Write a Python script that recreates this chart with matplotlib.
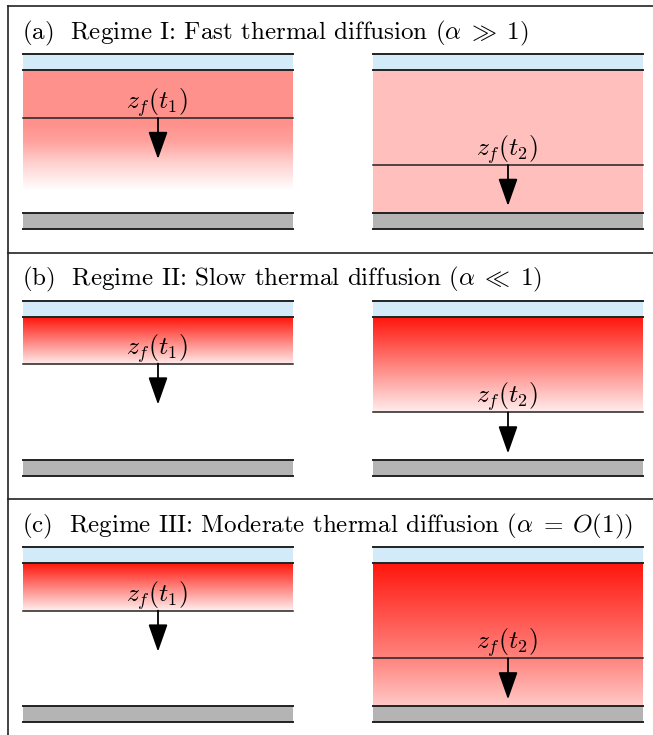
import numpy as np
import matplotlib.pyplot as plt
from matplotlib.patches import Rectangle

plt.rcParams['font.family'] = 'cmr10'
plt.rcParams['mathtext.fontset'] = 'cm'

# Panel titles
titles = [r'(a)  Regime I: Fast thermal diffusion $(\alpha\;\gg\;1)$',
          r'(b)  Regime II: Slow thermal diffusion $(\alpha\;\ll\;1)$',
          r'(c)  Regime III: Moderate thermal diffusion $(\alpha\;=\;O(1))$']

# Front depth (fraction of layer depth) at t1 and t2
front_t1 = [0.336, 0.329, 0.333]
front_t2 = [0.664, 0.671, 0.667]

# Heat intensity profiles (depth fraction, intensity 0..1)
prof_depth = {
    ('a', 1): [0.0, 0.38, 0.5, 0.65, 0.84, 1.0],
    ('a', 2): [0.0, 1.0],
    ('b', 1): [0.0, 0.333, 0.334, 1.0],
    ('b', 2): [0.0, 0.667, 0.668, 1.0],
    ('c', 1): [0.0, 0.333, 0.334, 1.0],
    ('c', 2): [0.0, 0.333, 0.667, 1.0],
}
prof_val = {
    ('a', 1): [0.47, 0.47, 0.40, 0.20, 0.0, 0.0],
    ('a', 2): [0.27, 0.27],
    ('b', 1): [1.0, 0.07, 0.0, 0.0],
    ('b', 2): [1.0, 0.07, 0.0, 0.0],
    ('c', 1): [1.0, 0.07, 0.0, 0.0],
    ('c', 2): [1.0, 0.76, 0.53, 0.23],
}
labels = ['a', 'b', 'c']

# layout (pixels)
pitch = 246.5
blue_top, liq_top, gray_top, gray_bot = 54, 70, 213, 229
boxes = [(23, 293), (373, 643)]
arrow_len = 41
red = np.array([255, 22, 12]) / 255.0
lc = '#222222'

fig = plt.figure(figsize=(6.53, 7.35), dpi=100)
ax = fig.add_axes([0, 0, 1, 1])

# outer frame and dividers
ax.plot([8, 8], [6, 740], color=lc, lw=1.2)
for k in range(3):
    ax.plot([8, 660], [6 + k * pitch, 6 + k * pitch], color=lc, lw=1.2)

for k, lab in enumerate(labels):
    off = k * pitch
    ax.text(22, 33 + off, titles[k], fontsize=18, va='center', ha='left')
    for j, (x0, x1) in enumerate(boxes):
        w = x1 - x0
        yt, yb = liq_top + off, gray_top + off
        # heat gradient
        d = np.linspace(0, 1, 400)
        s = np.interp(d, prof_depth[(lab, j + 1)], prof_val[(lab, j + 1)])
        img = 1 - s[:, None, None] * (1 - red[None, None, :])
        ax.imshow(img, extent=(x0, x1, yb, yt), origin='upper',
                  aspect='auto', interpolation='bilinear')
        ax.add_patch(Rectangle((x0, blue_top + off), w, liq_top - blue_top,
                               fc='#d3ebf8', ec='none'))
        ax.add_patch(Rectangle((x0, gray_top + off), w, gray_bot - gray_top,
                               fc='#b4b4b4', ec='none'))
        for yy in [blue_top, liq_top, gray_top, gray_bot]:
            ax.plot([x0, x1], [yy + off, yy + off], color=lc, lw=1.4)
        # freezing front
        f = front_t1[k] if j == 0 else front_t2[k]
        yf = yt + f * (yb - yt)
        ax.plot([x0, x1], [yf, yf], color=lc, lw=1.1)
        xc = (x0 + x1) / 2
        ax.annotate('', xy=(xc, yf + arrow_len), xytext=(xc, yf),
                    arrowprops=dict(arrowstyle='-|>,head_length=0.85,head_width=0.3',
                                    mutation_scale=20, color='black', lw=1.3,
                                    shrinkA=0, shrinkB=0))
        tl = r'$z_f(t_1)$' if j == 0 else r'$z_f(t_2)$'
        ax.text(xc - 1, yf + 1, tl, fontsize=18.5, ha='center', va='bottom')

ax.set_xlim(0, 653)
ax.set_ylim(735, 0)
ax.axis('off')
fig.savefig('out.png', dpi=100)
